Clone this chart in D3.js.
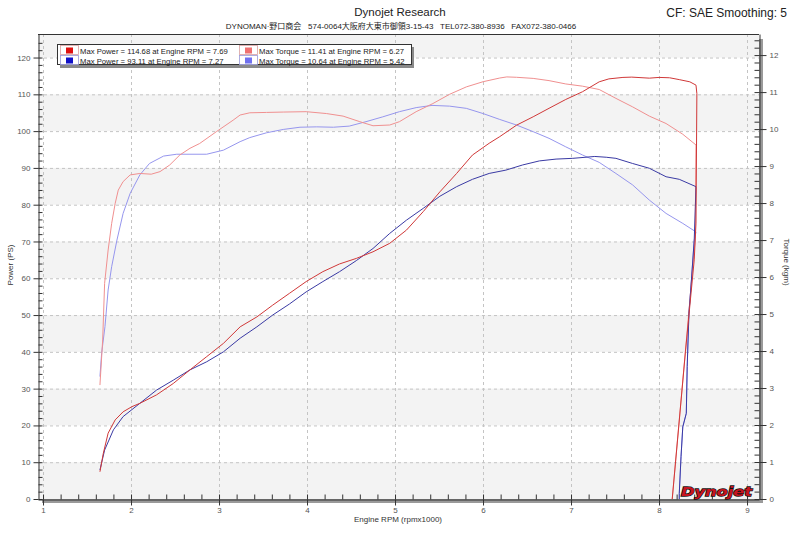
<!DOCTYPE html>
<html><head><meta charset="utf-8">
<script src="https://cdn.jsdelivr.net/npm/d3@7"></script>
<style>
body{margin:0;background:#fff;}
svg{display:block;font-family:"Liberation Sans","Noto Sans CJK JP",sans-serif;}
</style></head>
<body><svg id="c" width="800" height="538"></svg>
<script>
// ---------- data ----------
const titleText = "Dynojet Research";
const subtitleText = "DYNOMAN·野口商会   574-0064大阪府大東市御領3-15-43   TEL072-380-8936   FAX072-380-0466";
const cfText = "CF: SAE Smoothing: 5";
const xTicks = [1,2,3,4,5,6,7,8,9];
const powerTicks = [0,10,20,30,40,50,60,70,80,90,100,110,120];
const torqueTicks = [0,1,2,3,4,5,6,7,8,9,10,11,12];
const legendLabels = [
  "Max Power = 114.68 at Engine RPM = 7.69",
  "Max Torque = 11.41 at Engine RPM = 6.27",
  "Max Power = 93.11 at Engine RPM = 7.27",
  "Max Torque = 10.64 at Engine RPM = 5.42"
];

const run1PowerRpm = [1.647,1.685,1.74,1.82,1.91,2.01,2.10,2.29,2.48,2.67,2.86,3.05,3.24,3.43,3.61,3.80,3.99,4.18,4.37,4.56,4.75,4.94,5.13,5.32,5.51,5.70,5.88,6.07,6.19,6.38,6.57,6.75,6.94,7.13,7.32,7.43,7.59,7.69,7.89,8.00,8.12,8.23,8.35,8.42,8.43,8.42,8.40,8.30,8.15];
const run1Power    = [7.4,12.4,17.9,21.5,23.7,25.1,26.0,28.3,31.4,35.1,38.7,42.3,46.8,49.5,52.7,55.9,59.1,61.8,63.9,65.4,67.2,69.5,73.1,78.1,83.5,88.5,93.5,96.7,98.5,101.6,103.9,106.2,108.6,110.7,113.4,114.2,114.6,114.68,114.4,114.6,114.5,114.0,113.4,112.5,110.2,75,65,40,0];

const run1TorqueRpm = [1.647,1.678,1.70,1.74,1.78,1.82,1.855,1.91,1.99,2.10,2.23,2.33,2.44,2.555,2.67,2.78,2.97,3.16,3.24,3.35,3.54,3.73,3.99,4.22,4.41,4.60,4.75,4.94,5.05,5.24,5.43,5.62,5.81,6.00,6.19,6.27,6.38,6.57,6.75,6.94,7.13,7.32,7.51,7.70,7.89,8.08,8.27,8.42,8.41,8.30,8.15];
const run1Torque    = [3.08,4.3,5.83,6.73,7.45,7.99,8.35,8.58,8.76,8.80,8.78,8.85,9.03,9.30,9.48,9.61,9.93,10.24,10.38,10.44,10.45,10.46,10.47,10.42,10.35,10.20,10.09,10.11,10.20,10.47,10.69,10.94,11.14,11.28,11.38,11.41,11.40,11.37,11.31,11.22,11.16,11.07,10.83,10.60,10.35,10.15,9.86,9.57,7.0,4.0,0];

const run2PowerRpm = [1.647,1.70,1.80,1.91,2.10,2.29,2.48,2.67,2.86,3.05,3.24,3.43,3.61,3.80,3.99,4.18,4.37,4.56,4.75,4.94,5.13,5.32,5.51,5.70,5.88,6.07,6.26,6.45,6.64,6.83,7.02,7.27,7.40,7.51,7.70,7.89,8.08,8.23,8.42,8.40,8.36,8.34,8.32,8.31,8.27,8.25,8.23,8.23];
const run2Power    = [7.9,13.3,18.8,22.4,26.0,29.6,32.3,35.1,37.3,40.0,43.7,46.8,50.0,53.0,56.3,59.1,61.8,64.8,68.1,72.2,75.8,79.0,82.3,84.9,86.9,88.5,89.4,90.8,91.9,92.4,92.6,93.11,92.9,92.6,91.2,89.9,87.6,86.9,84.9,70.4,56.8,50.5,36.0,23.3,19.6,11.5,1.5,0];

const run2TorqueRpm = [1.647,1.666,1.704,1.74,1.78,1.84,1.91,1.99,2.10,2.21,2.37,2.52,2.67,2.86,3.05,3.24,3.35,3.54,3.73,3.92,4.11,4.30,4.48,4.67,4.86,5.05,5.24,5.42,5.62,5.81,6.00,6.19,6.38,6.57,6.75,6.94,7.13,7.32,7.51,7.70,7.89,8.08,8.27,8.42,8.40,8.36,8.34,8.32,8.31,8.27,8.25,8.23,8.23];
const run2Torque    = [3.31,3.94,4.66,5.65,6.28,7.0,7.72,8.26,8.76,9.07,9.27,9.32,9.32,9.32,9.43,9.66,9.77,9.90,9.99,10.05,10.06,10.05,10.08,10.20,10.33,10.47,10.58,10.64,10.62,10.56,10.42,10.26,10.11,9.93,9.75,9.52,9.30,9.10,8.80,8.49,8.08,7.72,7.45,7.22,7.0,5.65,5.03,3.58,2.32,1.95,1.14,0.15,0];

// ---------- layout ----------
const L=38, R=759, T=34, B=499;
const svg = d3.select("#c");
const x = d3.scaleLinear().domain([0.943, 9.136]).range([L,R]);
const yP = d3.scaleLinear().domain([0, 126.4]).range([B,T]);
const yT = d3.scaleLinear().domain([0, 12.57]).range([B,T]);

const colPow1="#d03838", colTq1="#f09090", colPow2="#3a3aa4", colTq2="#9696ee";

// bands
const bands = [0,20,40,60,80,100,120];
svg.append("g").selectAll("rect").data(bands).join("rect")
  .attr("x",L).attr("width",R-L)
  .attr("y",d=>yP(Math.min(d+10,126.4)))
  .attr("height",d=>yP(d)-yP(Math.min(d+10,126.4)))
  .attr("fill","#f3f3f3");

// grid
svg.append("g").selectAll("line").data(powerTicks.filter(d=>d>0)).join("line")
  .attr("x1",L).attr("x2",R).attr("y1",d=>yP(d)+0.5).attr("y2",d=>yP(d)+0.5)
  .attr("stroke","#c4c4c4").attr("stroke-dasharray","3,3");
svg.append("g").selectAll("line").data(xTicks).join("line")
  .attr("y1",T).attr("y2",B).attr("x1",d=>Math.round(x(d))+0.5).attr("x2",d=>Math.round(x(d))+0.5)
  .attr("stroke","#c4c4c4").attr("stroke-dasharray","3,3");

// shadows of axes
svg.append("rect").attr("x",L+4).attr("y",B).attr("width",R+4-L-4).attr("height",4).attr("fill","#9a9a9a");
svg.append("rect").attr("x",R).attr("y",T+5).attr("width",4).attr("height",B+4-T-5).attr("fill","#9a9a9a");

// top frame line
svg.append("line").attr("x1",L).attr("x2",R).attr("y1",T+0.5).attr("y2",T+0.5).attr("stroke","#333");

function styleAxis(g){
  g.selectAll("path.domain").attr("stroke","#333");
  g.selectAll(".tick line").attr("stroke","#333");
  g.selectAll(".tick text").attr("fill","#555").attr("font-size","8px").attr("font-family","Liberation Sans, sans-serif");
}
// left
svg.append("g").attr("transform",`translate(${L+0.5},0)`)
  .call(d3.axisRight(yP).tickValues(d3.range(0,126,2)).tickSize(4).tickFormat(""))
  .call(g=>g.select(".domain").remove()).call(styleAxis);
svg.append("g").attr("transform",`translate(${L+0.5},0)`)
  .call(d3.axisLeft(yP).tickValues(powerTicks).tickSizeInner(5).tickSizeOuter(0).tickPadding(3))
  .call(styleAxis);
// right
svg.append("g").attr("transform",`translate(${R+0.5},0)`)
  .call(d3.axisLeft(yT).tickValues(d3.range(0,12.5,0.2)).tickSize(5).tickFormat(""))
  .call(g=>g.select(".domain").remove()).call(styleAxis);
svg.append("g").attr("transform",`translate(${R+0.5},0)`)
  .call(d3.axisRight(yT).tickValues(torqueTicks).tickSizeInner(7).tickSizeOuter(0).tickPadding(3))
  .call(styleAxis);
// bottom
svg.append("g").attr("transform",`translate(0,${B+0.5})`)
  .call(d3.axisTop(x).tickValues(d3.range(1,9.01,0.2)).tickSize(5).tickFormat(""))
  .call(g=>g.select(".domain").remove()).call(styleAxis);
svg.append("g").attr("transform",`translate(0,${B+0.5})`)
  .call(d3.axisBottom(x).tickValues(xTicks).tickSizeInner(6).tickSizeOuter(0).tickPadding(2))
  .call(styleAxis);

// curves
function draw(rpm, vals, scale, col){
  const pts = rpm.map((r,i)=>[r, vals[i]]);
  svg.append("path").datum(pts)
    .attr("d", d3.line().x(d=>x(d[0])).y(d=>scale(d[1])))
    .attr("fill","none").attr("stroke",col).attr("stroke-width",1).attr("stroke-linejoin","round");
}
draw(run2TorqueRpm, run2Torque, yT, colTq2);
draw(run1TorqueRpm, run1Torque, yT, colTq1);
draw(run2PowerRpm, run2Power, yP, colPow2);
draw(run1PowerRpm, run1Power, yP, colPow1);

// logo
svg.append("text").attr("x",681).attr("y",496)
  .attr("font-family","DejaVu Sans, sans-serif").attr("font-weight","bold").attr("font-style","italic")
  .attr("font-size","13px").attr("textLength",71).attr("lengthAdjust","spacingAndGlyphs")
  .attr("fill","#c8141e").attr("stroke","#111").attr("stroke-width",1.3).attr("paint-order","stroke")
  .text("Dynojet");

// legend
const lg = svg.append("g");
lg.append("rect").attr("x",60).attr("y",47).attr("width",354).attr("height",21).attr("fill","#8a8a8a");
lg.append("rect").attr("x",57.5).attr("y",44.5).attr("width",354).attr("height",20).attr("fill","#fff").attr("stroke","#333");
const swatchCols = ["#e01010","#f07070","#1010c8","#7070f0"];
legendLabels.forEach((t,i)=>{
  const col = i%2, row = Math.floor(i/2);
  const bx = col===0 ? 60 : 239, by = 45.5 + row*10;
  lg.append("rect").attr("x",bx+0.5).attr("y",by).attr("width",18).attr("height",9)
    .attr("fill","#fff").attr("stroke", row===0 ? "#d9a0a0" : "#9a9ad9").attr("stroke-width",0.8);
  lg.append("rect").attr("x",bx+6).attr("y",by+2).attr("width",7).attr("height",6).attr("fill",swatchCols[i]);
  lg.append("text").attr("x",bx+20).attr("y",by+8).attr("font-size","7.7px").attr("fill","#222").text(t);
});

// titles
svg.append("text").attr("x",400).attr("y",16).attr("text-anchor","middle").attr("font-size","11.5px").attr("fill","#222").text(titleText);
svg.append("text").attr("x",401).attr("y",29).attr("text-anchor","middle").attr("font-size","8px").attr("fill","#222")
  .style("white-space","pre").attr("xml:space","preserve").text(subtitleText);
svg.append("text").attr("x",787).attr("y",17).attr("text-anchor","end").attr("font-size","12px").attr("fill","#222").text(cfText);
svg.append("text").attr("x",398).attr("y",522).attr("text-anchor","middle").attr("font-size","8px").attr("fill","#333").text("Engine RPM (rpmx1000)");
svg.append("text").attr("transform","translate(13,265) rotate(-90)").attr("text-anchor","middle").attr("font-size","8px").attr("fill","#333").text("Power (PS)");
svg.append("text").attr("transform","translate(784,262) rotate(90)").attr("text-anchor","middle").attr("font-size","8px").attr("fill","#333").text("Torque (kgm)");
</script></body></html>
